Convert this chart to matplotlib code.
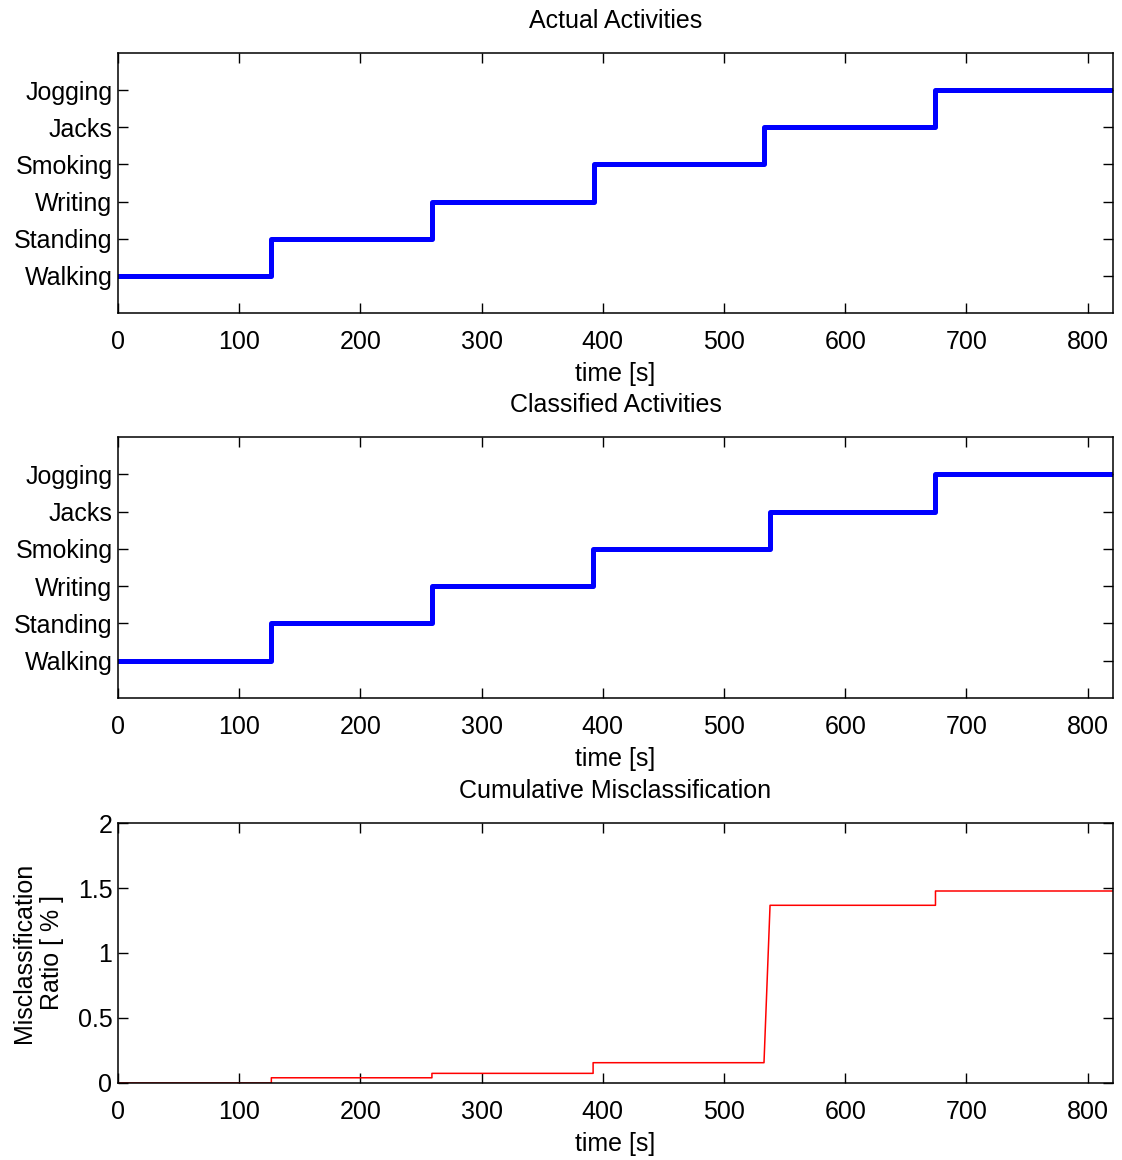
import matplotlib
matplotlib.use("Agg")
import matplotlib.pyplot as plt
from matplotlib.ticker import FuncFormatter

plt.rcParams['font.family'] = ['Liberation Sans', 'DejaVu Sans']

ACTIVITIES = ["Walking", "Standing", "Writing", "Smoking", "Jacks", "Jogging"]
T_END = 821

# start times of each activity segment [s]
actual_starts = [0, 126.5, 259, 392.5, 533, 674.5]
classified_starts = [0, 126.5, 259, 392, 538, 674.5]

# cumulative misclassification ratio [%] (polyline)
mis_t = [0, 126.5, 126.5, 259, 259, 392, 392, 533, 538, 674.5, 674.5, 821]
mis_v = [0, 0, 0.04, 0.04, 0.074, 0.074, 0.156, 0.156, 1.367, 1.367, 1.477, 1.477]

FS = 18


def style_axes(ax):
    ax.set_xlim(0, T_END)
    ax.set_xticks(range(0, 801, 100))
    ax.tick_params(direction='in', length=7, width=1, top=True, right=True,
                   labelsize=FS, pad=4)
    ax.tick_params(axis='x', pad=12)
    for s in ax.spines.values():
        s.set_linewidth(1.1)
    ax.set_xlabel("time [s]", fontsize=FS, labelpad=6)


def step_plot(ax, starts, title):
    x = list(starts) + [T_END]
    y = list(range(1, len(starts) + 1)) + [len(starts)]
    ax.plot(x, y, color='#0000ff', lw=3.6, drawstyle='steps-post')
    ax.set_ylim(0, 7)
    ax.set_yticks(range(1, 7))
    ax.set_yticklabels(ACTIVITIES)
    ax.set_title(title, fontsize=FS, pad=18)
    style_axes(ax)


fig = plt.figure(figsize=(11.22, 11.6), dpi=100)
left, width = 0.1052, 0.8868
ax1 = fig.add_axes([left, 0.7302, width, 0.2241])
ax2 = fig.add_axes([left, 0.3983, width, 0.2250])
ax3 = fig.add_axes([left, 0.0664, width, 0.2241])

step_plot(ax1, actual_starts, "Actual Activities")
step_plot(ax2, classified_starts, "Classified Activities")

ax3.plot(mis_t, mis_v, color='#ff0000', lw=1.1)
ax3.set_ylim(0, 2)
ax3.set_yticks([0, 0.5, 1, 1.5, 2])
ax3.yaxis.set_major_formatter(FuncFormatter(lambda v, p: f"{v:g}"))
ax3.set_ylabel("Misclassification\nRatio [ % ]", fontsize=FS, labelpad=10, linespacing=1.2)
ax3.set_title("Cumulative Misclassification", fontsize=FS, pad=18)
style_axes(ax3)

fig.savefig("out.png", dpi=100)
